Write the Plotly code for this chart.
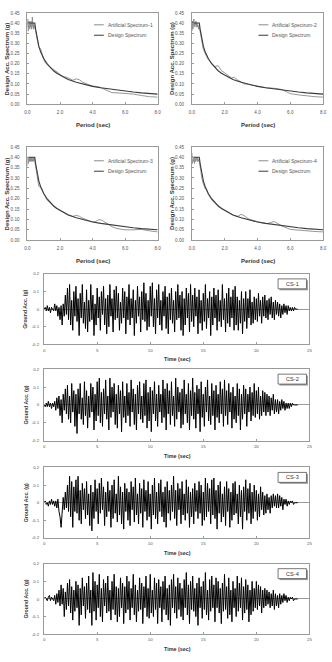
import plotly.graph_objects as go

# ---------------- DATA ----------------
design_period = [0.0, 0.45, 0.5, 0.6, 0.7, 0.8, 0.9, 1.0, 1.2, 1.4, 1.6, 1.8, 2.0, 2.5, 3.0, 3.5,
                 4.0, 4.5, 5.0, 5.5, 6.0, 6.5, 7.0, 7.5, 8.0]
design_sa = [0.40, 0.40, 0.37, 0.32, 0.285, 0.26, 0.24, 0.225, 0.20, 0.18, 0.165, 0.153, 0.143, 0.122,
             0.108, 0.097, 0.088, 0.081, 0.075, 0.069, 0.064, 0.060, 0.056, 0.053, 0.050]

art_period = [0.0, 0.02, 0.04, 0.06, 0.08, 0.1, 0.12, 0.14, 0.16, 0.18, 0.2, 0.22, 0.24, 0.26, 0.28,
              0.3, 0.32, 0.34, 0.36, 0.38, 0.4, 0.45, 0.5, 0.55, 0.6, 0.65, 0.7, 0.8, 0.9, 1.0,
              1.1, 1.2, 1.4, 1.6, 1.8, 2.0, 2.2, 2.4, 2.6, 2.8, 3.0, 3.2, 3.4, 3.6, 3.8, 4.0,
              4.2, 4.4, 4.6, 4.8, 5.0, 5.2, 5.5, 6.0, 6.5, 7.0, 7.5, 8.0]
art_sa_1 = [0.38, 0.42, 0.36, 0.40, 0.38, 0.41, 0.39, 0.37, 0.40, 0.39, 0.38, 0.41, 0.40, 0.37, 0.39,
            0.43, 0.40, 0.38, 0.40, 0.37, 0.39, 0.38, 0.36, 0.34, 0.31, 0.30, 0.28, 0.275, 0.245, 0.22,
            0.205, 0.195, 0.18, 0.172, 0.16, 0.145, 0.135, 0.133, 0.125, 0.118, 0.125, 0.12, 0.108, 0.10, 0.095, 0.09,
            0.087, 0.085, 0.078, 0.07, 0.062, 0.057, 0.056, 0.054, 0.05, 0.043, 0.037, 0.035]
art_sa_2 = [0.36, 0.39, 0.41, 0.37, 0.40, 0.38, 0.42, 0.39, 0.40, 0.38, 0.39, 0.40, 0.41, 0.39, 0.40,
            0.38, 0.40, 0.39, 0.38, 0.39, 0.37, 0.38, 0.36, 0.33, 0.31, 0.29, 0.27, 0.25, 0.235, 0.22,
            0.21, 0.20, 0.185, 0.19, 0.165, 0.155, 0.14, 0.13, 0.132, 0.118, 0.11, 0.10, 0.098, 0.095, 0.093, 0.09,
            0.087, 0.082, 0.080, 0.080, 0.079, 0.077, 0.072, 0.052, 0.046, 0.041, 0.037, 0.035]
art_sa_3 = [0.36, 0.40, 0.38, 0.37, 0.40, 0.39, 0.38, 0.40, 0.39, 0.38, 0.40, 0.39, 0.38, 0.40, 0.39,
            0.38, 0.39, 0.40, 0.38, 0.39, 0.40, 0.38, 0.36, 0.34, 0.31, 0.28, 0.26, 0.255, 0.24, 0.22,
            0.205, 0.195, 0.18, 0.165, 0.155, 0.145, 0.135, 0.128, 0.12, 0.115, 0.12, 0.115, 0.105, 0.098, 0.093, 0.088,
            0.09, 0.10, 0.095, 0.085, 0.075, 0.065, 0.056, 0.050, 0.050, 0.052, 0.045, 0.040]
art_sa_4 = [0.42, 0.37, 0.40, 0.38, 0.39, 0.38, 0.40, 0.39, 0.37, 0.39, 0.40, 0.38, 0.39, 0.38, 0.40,
            0.39, 0.38, 0.40, 0.39, 0.38, 0.39, 0.38, 0.36, 0.33, 0.30, 0.28, 0.27, 0.25, 0.24, 0.22,
            0.205, 0.195, 0.178, 0.165, 0.155, 0.145, 0.135, 0.125, 0.118, 0.115, 0.125, 0.118, 0.105, 0.098, 0.093, 0.088,
            0.085, 0.082, 0.080, 0.085, 0.090, 0.082, 0.068, 0.052, 0.048, 0.045, 0.042, 0.040]

art_names = ["Artificial Spectrum-1", "Artificial Spectrum-2", "Artificial Spectrum-3", "Artificial Spectrum-4"]
design_name = "Design Spectrum"

spec_xticks = [0.0, 2.0, 4.0, 6.0, 8.0]
spec_yticks = [0.00, 0.05, 0.10, 0.15, 0.20, 0.25, 0.30, 0.35, 0.40, 0.45]

dt = 0.1
acc_cs1 = [
    0.00, 0.01, -0.01, 0.02, -0.01, 0.01, -0.02, 0.01, 0.00, -0.01,
    0.03, -0.01, 0.02, -0.04, 0.01, -0.06, 0.02, -0.09, 0.03, -0.04,
    0.08, -0.03, 0.12, -0.06, 0.14, -0.09, 0.05, -0.12, 0.10, -0.04,
    0.13, -0.07, 0.06, -0.15, 0.09, -0.05, 0.14, -0.08, 0.04, -0.11,
    0.11, -0.13, 0.05, -0.07, 0.14, -0.06, 0.08, -0.15, 0.03, -0.09,
    0.12, -0.05, 0.07, -0.12, 0.10, -0.03, 0.13, -0.09, 0.06, -0.14,
    0.08, -0.10, 0.14, -0.04, 0.06, -0.13, 0.11, -0.06, 0.13, -0.05,
    0.09, -0.12, 0.04, -0.08, 0.12, -0.05, 0.10, -0.14, 0.07, -0.06,
    0.14, -0.09, 0.06, -0.05, 0.11, -0.15, 0.05, -0.08, 0.13, -0.04,
    0.07, -0.13, 0.10, -0.06, 0.15, -0.07, 0.09, -0.12, 0.05, -0.10,
    0.13, -0.04, 0.15, -0.10, 0.06, -0.14, 0.11, -0.05, 0.14, -0.09,
    0.05, -0.12, 0.10, -0.04, 0.13, -0.11, 0.07, -0.14, 0.09, -0.06,
    0.12, -0.08, 0.05, -0.13, 0.10, -0.06, 0.14, -0.05, 0.08, -0.12,
    0.10, -0.15, 0.06, -0.09, 0.12, -0.05, 0.09, -0.13, 0.14, -0.07,
    0.08, -0.10, 0.12, -0.04, 0.07, -0.14, 0.11, -0.08, 0.05, -0.12,
    0.09, -0.07, 0.14, -0.11, 0.06, -0.05, 0.10, -0.15, 0.07, -0.09,
    0.12, -0.05, 0.08, -0.12, 0.11, -0.07, 0.05, -0.10, 0.14, -0.06,
    0.06, -0.13, 0.09, -0.08, 0.12, -0.10, 0.07, -0.05, 0.11, -0.12,
    0.13, -0.09, 0.07, -0.12, 0.05, -0.08, 0.10, -0.14, 0.06, -0.07,
    0.10, -0.11, 0.06, -0.05, 0.11, -0.09, 0.04, -0.08, 0.07, -0.06,
    0.06, -0.07, 0.09, -0.04, 0.05, -0.08, 0.07, -0.04, 0.08, -0.05,
    0.05, -0.06, 0.06, -0.03, 0.07, -0.05, 0.04, -0.06, 0.05, -0.03,
    0.04, -0.04, 0.03, -0.05, 0.02, -0.03, 0.03, -0.02, 0.02, -0.03,
    0.02, -0.01, 0.01, -0.01, 0.01, -0.01, 0.01, 0.00, 0.00, 0.00,
]
acc_cs2 = [
    0.00, -0.01, 0.01, -0.01, 0.02, -0.01, 0.01, -0.02, 0.01, -0.01,
    0.02, -0.03, 0.04, -0.02, 0.05, -0.06, 0.03, -0.10, 0.06, -0.03,
    0.09, -0.05, 0.11, -0.08, 0.05, -0.10, 0.12, -0.04, 0.08, -0.12,
    0.06, -0.16, 0.09, -0.05, 0.12, -0.08, 0.04, -0.11, 0.13, -0.06,
    0.08, -0.13, 0.05, -0.07, 0.12, -0.04, 0.10, -0.14, 0.06, -0.09,
    0.13, -0.06, 0.15, -0.10, 0.07, -0.12, 0.09, -0.05, 0.14, -0.08,
    0.05, -0.14, 0.15, -0.07, 0.10, -0.04, 0.12, -0.11, 0.06, -0.13,
    0.11, -0.05, 0.08, -0.15, 0.13, -0.07, 0.05, -0.10, 0.12, -0.06,
    0.07, -0.12, 0.14, -0.04, 0.09, -0.11, 0.06, -0.14, 0.11, -0.05,
    0.13, -0.08, 0.05, -0.10, 0.12, -0.06, 0.14, -0.13, 0.07, -0.09,
    0.10, -0.15, 0.08, -0.05, 0.13, -0.09, 0.06, -0.12, 0.11, -0.04,
    0.06, -0.10, 0.14, -0.07, 0.09, -0.14, 0.12, -0.05, 0.08, -0.11,
    0.13, -0.06, 0.05, -0.12, 0.15, -0.08, 0.10, -0.04, 0.07, -0.13,
    0.09, -0.11, 0.14, -0.05, 0.06, -0.10, 0.12, -0.14, 0.08, -0.06,
    0.15, -0.08, 0.07, -0.13, 0.11, -0.05, 0.09, -0.15, 0.13, -0.07,
    0.06, -0.12, 0.10, -0.04, 0.14, -0.09, 0.05, -0.11, 0.12, -0.06,
    0.08, -0.14, 0.11, -0.07, 0.06, -0.10, 0.13, -0.05, 0.09, -0.12,
    0.14, -0.06, 0.08, -0.11, 0.12, -0.04, 0.07, -0.13, 0.10, -0.08,
    0.05, -0.10, 0.12, -0.06, 0.09, -0.14, 0.06, -0.08, 0.11, -0.05,
    0.09, -0.12, 0.06, -0.04, 0.10, -0.09, 0.07, -0.06, 0.12, -0.07,
    0.08, -0.05, 0.10, -0.08, 0.05, -0.06, 0.08, -0.04, 0.07, -0.06,
    0.06, -0.04, 0.05, -0.06, 0.04, -0.03, 0.06, -0.05, 0.03, -0.04,
    0.03, -0.05, 0.02, -0.03, 0.03, -0.02, 0.02, -0.03, 0.01, -0.02,
    0.01, -0.02, 0.01, -0.01, 0.01, 0.00, 0.00, 0.00, 0.00, 0.00,
]
acc_cs3 = [
    0.00, 0.01, -0.01, 0.00, -0.02, 0.01, -0.01, 0.02, -0.01, 0.01,
    -0.02, 0.01, -0.03, 0.02, -0.05, -0.08, -0.14, -0.06, 0.03, -0.04,
    0.06, -0.03, 0.10, -0.05, 0.15, -0.08, 0.12, -0.14, 0.09, -0.05,
    0.13, -0.06, 0.15, -0.10, 0.07, -0.12, 0.11, -0.04, 0.08, -0.09,
    0.12, -0.07, 0.05, -0.13, 0.10, -0.16, 0.06, -0.09, 0.13, -0.05,
    0.08, -0.12, 0.11, -0.06, 0.14, -0.04, 0.09, -0.13, 0.06, -0.08,
    0.12, -0.05, 0.07, -0.14, 0.10, -0.09, 0.13, -0.06, 0.05, -0.11,
    0.15, -0.07, 0.09, -0.12, 0.06, -0.15, 0.11, -0.05, 0.08, -0.10,
    0.06, -0.13, 0.12, -0.04, 0.09, -0.11, 0.14, -0.07, 0.05, -0.12,
    0.11, -0.06, 0.08, -0.14, 0.13, -0.05, 0.07, -0.10, 0.12, -0.08,
    0.05, -0.15, 0.10, -0.07, 0.14, -0.09, 0.06, -0.12, 0.11, -0.05,
    0.13, -0.08, 0.06, -0.11, 0.09, -0.14, 0.12, -0.06, 0.07, -0.10,
    0.10, -0.05, 0.15, -0.09, 0.07, -0.13, 0.11, -0.04, 0.08, -0.12,
    0.12, -0.07, 0.05, -0.10, 0.13, -0.06, 0.09, -0.14, 0.06, -0.08,
    0.08, -0.12, 0.11, -0.05, 0.07, -0.09, 0.12, -0.06, 0.10, -0.13,
    0.06, -0.10, 0.14, -0.08, 0.11, -0.05, 0.08, -0.12, 0.13, -0.07,
    0.14, -0.09, 0.07, -0.15, 0.10, -0.06, 0.12, -0.11, 0.05, -0.08,
    0.09, -0.13, 0.12, -0.05, 0.08, -0.14, 0.06, -0.10, 0.11, -0.07,
    0.12, -0.06, 0.05, -0.12, 0.10, -0.08, 0.07, -0.15, 0.09, -0.05,
    0.13, -0.10, 0.08, -0.06, 0.11, -0.12, 0.06, -0.09, 0.10, -0.05,
    0.07, -0.10, 0.05, -0.08, 0.09, -0.04, 0.06, -0.07, 0.04, -0.06,
    0.05, -0.04, 0.03, -0.06, 0.04, -0.03, 0.05, -0.02, 0.04, -0.03,
    0.05, -0.03, 0.04, -0.02, 0.03, -0.04, 0.02, -0.01, 0.02, -0.02,
    0.01, -0.01, 0.01, 0.00, 0.01, -0.01, 0.00, 0.00, 0.00, 0.00,
]
acc_cs4 = [
    0.00, 0.01, 0.00, -0.01, 0.01, 0.02, -0.01, 0.01, 0.00, -0.01,
    0.02, -0.03, 0.03, -0.02, 0.05, -0.04, 0.08, -0.03, 0.06, -0.10,
    0.04, -0.06, 0.09, -0.04, 0.11, -0.08, 0.07, -0.12, 0.05, -0.07,
    0.10, -0.05, 0.08, -0.15, 0.06, -0.09, 0.12, -0.04, 0.07, -0.11,
    0.09, -0.06, 0.13, -0.08, 0.05, -0.15, 0.15, -0.07, 0.10, -0.12,
    0.08, -0.05, 0.14, -0.10, 0.06, -0.13, 0.11, -0.04, 0.09, -0.08,
    0.13, -0.07, 0.05, -0.12, 0.10, -0.06, 0.14, -0.09, 0.07, -0.13,
    0.06, -0.10, 0.12, -0.05, 0.09, -0.14, 0.07, -0.08, 0.13, -0.06,
    0.10, -0.12, 0.06, -0.05, 0.14, -0.09, 0.08, -0.13, 0.05, -0.07,
    0.12, -0.06, 0.09, -0.14, 0.07, -0.05, 0.13, -0.10, 0.06, -0.11,
    0.14, -0.08, 0.05, -0.10, 0.12, -0.06, 0.09, -0.14, 0.11, -0.05,
    0.07, -0.13, 0.10, -0.06, 0.13, -0.09, 0.06, -0.12, 0.08, -0.15,
    0.11, -0.05, 0.14, -0.08, 0.07, -0.11, 0.12, -0.06, 0.09, -0.10,
    0.06, -0.12, 0.11, -0.05, 0.15, -0.09, 0.08, -0.14, 0.10, -0.06,
    0.13, -0.07, 0.06, -0.10, 0.09, -0.15, 0.12, -0.05, 0.07, -0.11,
    0.10, -0.06, 0.15, -0.09, 0.05, -0.12, 0.11, -0.07, 0.13, -0.05,
    0.08, -0.13, 0.12, -0.05, 0.10, -0.08, 0.06, -0.14, 0.09, -0.07,
    0.14, -0.06, 0.07, -0.11, 0.12, -0.09, 0.05, -0.13, 0.10, -0.05,
    0.06, -0.10, 0.13, -0.07, 0.09, -0.05, 0.12, -0.12, 0.07, -0.08,
    0.11, -0.06, 0.08, -0.13, 0.05, -0.09, 0.10, -0.07, 0.06, -0.05,
    0.10, -0.06, 0.08, -0.04, 0.07, -0.08, 0.05, -0.05, 0.06, -0.04,
    0.05, -0.03, 0.04, -0.05, 0.03, -0.04, 0.05, -0.06, 0.03, -0.04,
    0.02, -0.05, 0.03, -0.03, 0.02, -0.02, 0.03, -0.01, 0.02, -0.02,
    0.01, -0.01, 0.01, 0.00, 0.01, -0.01, 0.00, 0.00, 0.00, 0.00,
]
records = [acc_cs1, acc_cs2, acc_cs3, acc_cs4]
record_names = ["CS-1", "CS-2", "CS-3", "CS-4"]
time_xticks = [0, 5, 10, 15, 20, 25]
acc_yticks = [-0.2, -0.1, 0, 0.1, 0.2]
acc_yticktext = ["-0.2", "-0.1", "0", "0.1", "0.2"]

# ---------------- LAYOUT HELPERS ----------------
W, H = 332, 662
FONT = "Liberation Sans, Arial, sans-serif"


def px_x(p):
    return p / W


def px_y(p):
    return 1 - p / H


def label(text, x, y, size, color="#333333", angle=0, xanchor="center"):
    return dict(text=text, xref="paper", yref="paper", x=px_x(x), y=px_y(y), textangle=angle,
                xanchor=xanchor, yanchor="middle", showarrow=False,
                font=dict(size=size, color=color, family=FONT))


fig = go.Figure()

spec_panels = [  # (left, right, top, bottom) in px
    (25, 158, 11, 103),
    (193, 327, 11, 103),
    (25, 158, 146, 240),
    (193, 327, 146, 240),
]
ts_panels = [
    (42, 313, 274, 345),
    (42, 313, 370, 442),
    (42, 313, 469, 540),
    (42, 313, 566, 637),
]


def axis_style(fs):
    return dict(showline=True, linecolor="#9a9a9a", linewidth=1, mirror=True,
                showgrid=False, zeroline=False, ticks="inside", ticklen=2,
                tickcolor="#9a9a9a", tickfont=dict(size=fs, color="#555555", family=FONT))


annotations = []
shapes = []
layout = dict(width=W, height=H, margin=dict(l=0, r=0, t=0, b=0), paper_bgcolor="white",
              plot_bgcolor="white", showlegend=False, font=dict(family=FONT))

for i, (l, r, t, b) in enumerate(spec_panels):
    n = i + 1
    xa = "x" if n == 1 else f"x{n}"
    ya = "y" if n == 1 else f"y{n}"
    art = [art_sa_1, art_sa_2, art_sa_3, art_sa_4][i]
    fig.add_trace(go.Scatter(x=art_period, y=art, mode="lines", name=art_names[i],
                             line=dict(color="#8a8a8a", width=0.9), xaxis=xa, yaxis=ya))
    fig.add_trace(go.Scatter(x=design_period, y=design_sa, mode="lines", name=design_name,
                             line=dict(color="#3a3a3a", width=1.1), xaxis=xa, yaxis=ya))
    layout["xaxis" if n == 1 else f"xaxis{n}"] = dict(
        axis_style(4.6), domain=[px_x(l), px_x(r)], range=[0, 8], tickvals=spec_xticks,
        tickformat=".1f", anchor=ya, ticklabelstandoff=3)
    layout["yaxis" if n == 1 else f"yaxis{n}"] = dict(
        axis_style(4.6), domain=[px_y(b), px_y(t)], range=[0, 0.45], tickvals=spec_yticks,
        tickformat=".2f", anchor=xa, ticklabelstandoff=6)
    annotations.append(label("<b>Design Acc. Spectrum (g)</b>", l - 21, (t + b) / 2, 6.0, angle=-90))
    annotations.append(label("<b>Period (sec)</b>", (l + r) / 2, b + 21, 6.0))
    # legend (manual)
    ly1 = t + 12 if i < 2 else t + 14
    for k, (txt, col) in enumerate([(art_names[i], "#8a8a8a"), (design_name, "#3a3a3a")]):
        yy = ly1 + k * 10.5
        shapes.append(dict(type="line", xref="paper", yref="paper", x0=px_x(l + 68), x1=px_x(l + 78),
                           y0=px_y(yy), y1=px_y(yy), line=dict(color=col, width=1)))
        annotations.append(label(txt, l + 80, yy, 5.0, color="#555555", xanchor="left"))

for i, (l, r, t, b) in enumerate(ts_panels):
    n = i + 5
    xa, ya = f"x{n}", f"y{n}"
    acc = records[i]
    tvals = [k * dt for k in range(len(acc))]
    fig.add_trace(go.Scatter(x=tvals, y=acc, mode="lines", name=record_names[i],
                             line=dict(color="#000000", width=1.0), xaxis=xa, yaxis=ya))
    layout[f"xaxis{n}"] = dict(axis_style(4.4), domain=[px_x(l), px_x(r)], range=[0, 25],
                               tickvals=time_xticks, anchor=ya, ticklabelstandoff=1)
    layout[f"yaxis{n}"] = dict(axis_style(4.4), domain=[px_y(b), px_y(t)], range=[-0.2, 0.2],
                               tickvals=acc_yticks, ticktext=acc_yticktext, anchor=xa,
                               zeroline=True, zerolinecolor="#9a9a9a", zerolinewidth=1,
                               ticklabelstandoff=3)
    annotations.append(label("<b>Ground Acc. (g)</b>", 23, (t + b) / 2, 5.2, angle=-90))
    annotations.append(label("<b>Time (sec)</b>", 178, b + 15, 5.4))
    # label box with shadow
    bx0, bx1, by0, by1 = 281, 310, t + 5, t + 15
    shapes.append(dict(type="rect", xref="paper", yref="paper", x0=px_x(bx0 + 1.5), x1=px_x(bx1 + 1.5),
                       y0=px_y(by1 + 1.5), y1=px_y(by0 + 1.5), fillcolor="#9a9a9a",
                       line=dict(width=0)))
    shapes.append(dict(type="rect", xref="paper", yref="paper", x0=px_x(bx0), x1=px_x(bx1),
                       y0=px_y(by1), y1=px_y(by0), fillcolor="white",
                       line=dict(color="#555555", width=0.8)))
    annotations.append(label(record_names[i], (bx0 + bx1) / 2, (by0 + by1) / 2, 5.6))

layout["annotations"] = annotations
layout["shapes"] = shapes
fig.update_layout(**layout)
fig.write_html("out.html")
